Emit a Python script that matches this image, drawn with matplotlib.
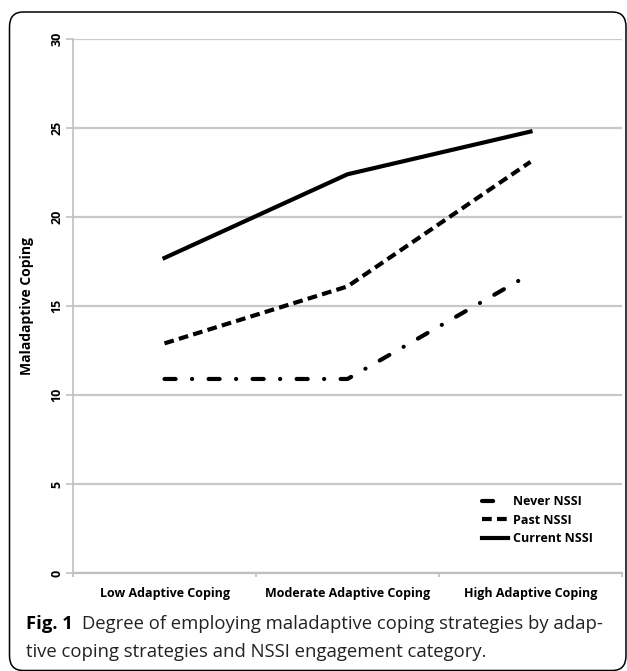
import matplotlib
matplotlib.use("Agg")
import matplotlib.pyplot as plt
from matplotlib.patches import FancyBboxPatch

plt.rcParams['lines.scale_dashes'] = False

categories = ["Low Adaptive Coping", "Moderate Adaptive Coping", "High Adaptive Coping"]
never_nssi = [10.9, 10.9, 16.8]
past_nssi = [12.9, 16.1, 23.1]
current_nssi = [17.7, 22.4, 24.8]
y_ticks = [0, 5, 10, 15, 20, 25, 30]

W, H = 627, 671
fig = plt.figure(figsize=(W / 100, H / 100), dpi=100)
ax = fig.add_axes([73 / W, 1 - 573 / H, (622 - 73) / W, (573 - 39) / H])

x = range(len(categories))
ax.plot(x, never_nssi, color='black', lw=3, dashes=(8, 11.8, 0.1, 11.8),
        dash_capstyle='round', label='Never NSSI')
ax.plot(x, past_nssi, color='black', lw=3, dashes=(7, 3.8),
        dash_capstyle='butt', label='Past NSSI')
ax.plot(x, current_nssi, color='black', lw=3, label='Current NSSI')

ax.set_xlim(-0.5, 2.5)
ax.set_ylim(0, 30)
ax.set_yticks(y_ticks)
ax.set_xticks([-0.5, 0.5, 1.5, 2.5])
ax.set_xticklabels([])
ax.set_xticks(list(x), minor=True)
ax.set_xticklabels(categories, minor=True, fontweight='bold', fontsize=9,
                   family='Open Sans')
ax.tick_params(axis='x', which='minor', length=0, pad=10)
ax.tick_params(axis='x', which='major', length=3, width=1.2, color='#c0c0c0')
ax.tick_params(axis='y', length=5, width=1.2, color='#c0c0c0', pad=2)
for lab in ax.get_yticklabels():
    lab.set_rotation(90)
    lab.set_fontweight('bold')
    lab.set_fontsize(9)
    lab.set_family('Open Sans')
    lab.set_va('center')

ax.yaxis.grid(True, color='#c8c8c8', lw=1.6)
ax.set_axisbelow(True)
for s in ['top', 'right']:
    ax.spines[s].set_visible(False)
ax.spines['left'].set_color('#c0c0c0')
ax.spines['bottom'].set_color('#c0c0c0')
ax.spines['left'].set_linewidth(1.2)
ax.spines['bottom'].set_linewidth(1.6)

ax.set_ylabel('Maladaptive Coping', fontweight='bold', fontsize=10,
              family='Open Sans')
ax.yaxis.set_label_coords(-0.071, 0.5)

leg = ax.legend(loc='upper left', bbox_to_anchor=(482 / W, 1 - 495 / H),
                bbox_transform=fig.transFigure, frameon=False,
                borderpad=0, borderaxespad=0,
                handlelength=2.1, handletextpad=0.35, labelspacing=0.45,
                prop={'family': 'Open Sans', 'weight': 'bold', 'size': 9})

# rounded frame around chart and caption
frame = FancyBboxPatch((9.5 / W, 0.5 / H), (626 - 9.5) / W, (671 - 12 - 0.5) / H,
                       boxstyle='round,pad=0,rounding_size=0.022',
                       transform=fig.transFigure, fill=False,
                       edgecolor='black', lw=1.1, clip_on=False)
fig.patches.append(frame)

# caption
t1 = fig.text(26 / W, 1 - 629 / H, 'Fig. 1', fontweight='bold', fontsize=13.3,
              family='Open Sans', va='baseline')
fig.canvas.draw()
bb = t1.get_window_extent()
fig.text((bb.x1 + 9) / W, 1 - 629 / H,
         'Degree of employing maladaptive coping strategies by adap-',
         fontsize=13.3, family='Open Sans', va='baseline', color='#222222')
fig.text(26 / W, 1 - 657 / H,
         'tive coping strategies and NSSI engagement category.',
         fontsize=13.3, family='Open Sans', va='baseline', color='#222222')

fig.savefig('out.png', dpi=100)
